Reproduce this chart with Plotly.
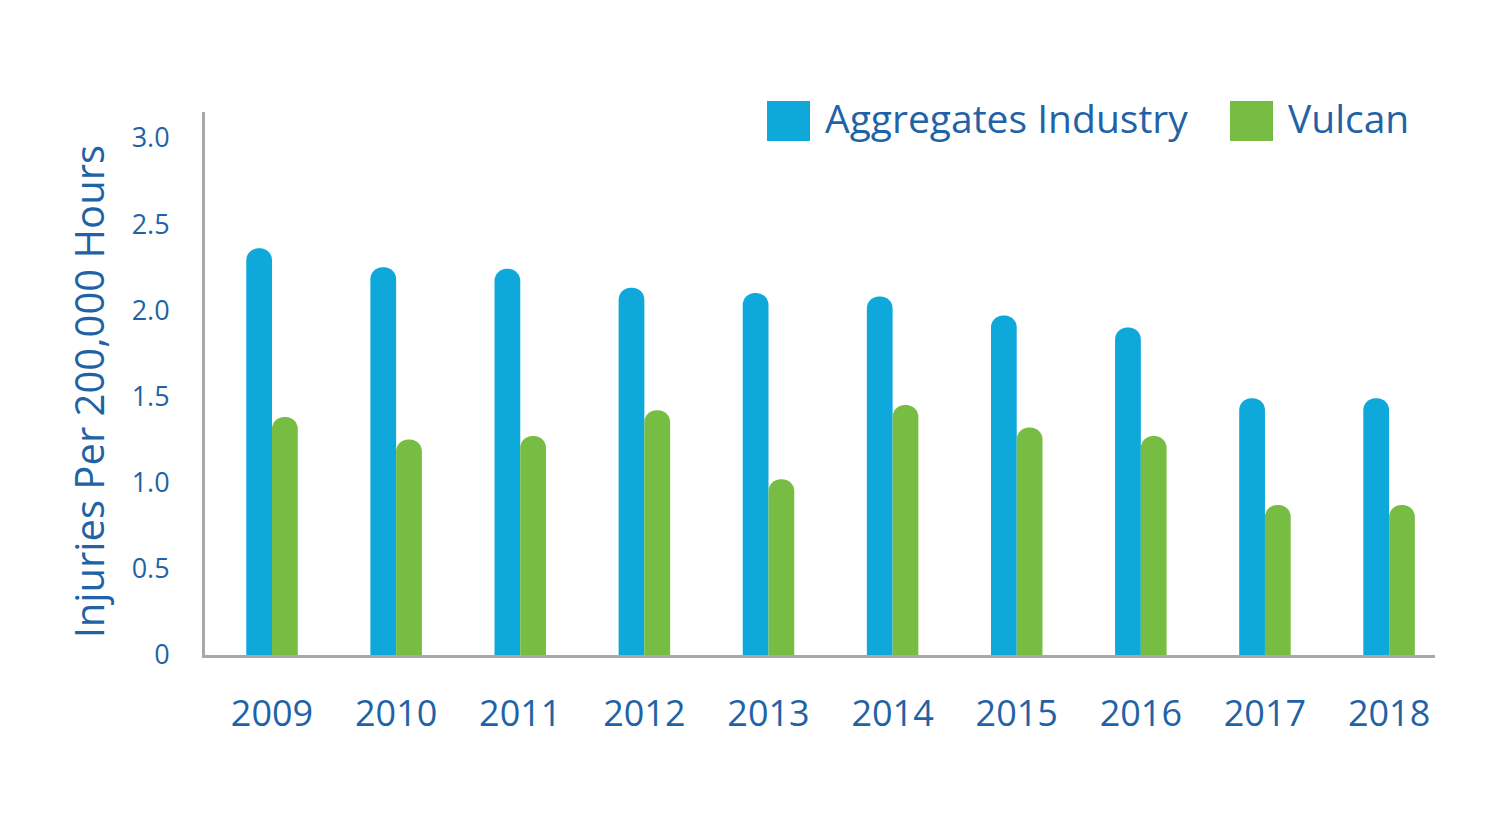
import plotly.graph_objects as go

years = ["2009", "2010", "2011", "2012", "2013", "2014", "2015", "2016", "2017", "2018"]
aggregates = [2.36, 2.25, 2.24, 2.13, 2.10, 2.08, 1.97, 1.90, 1.49, 1.49]
vulcan = [1.38, 1.25, 1.27, 1.42, 1.02, 1.45, 1.32, 1.27, 0.87, 0.87]
ytick_vals = [0, 0.5, 1.0, 1.5, 2.0, 2.5, 3.0]
ytick_text = ["0", "0.5", "1.0", "1.5", "2.0", "2.5", "3.0"]
series_names = ["Aggregates Industry", "Vulcan"]

BLUE = "#0EA8DA"
GREEN = "#77BD43"
TEXT = "#1F63A6"
AXIS = "#A6A8AB"
FONT = "Open Sans"

fig = go.Figure()
fig.add_trace(go.Bar(x=years, y=aggregates, name=series_names[0],
                     marker=dict(color=BLUE, cornerradius="50%", line=dict(width=0))))
fig.add_trace(go.Bar(x=years, y=vulcan, name=series_names[1],
                     marker=dict(color=GREEN, cornerradius="50%", line=dict(width=0))))

fig.update_layout(
    width=1487, height=818,
    barmode="group", bargap=0.585, bargroupgap=0,
    showlegend=False,
    plot_bgcolor="white", paper_bgcolor="white",
    margin=dict(l=197, r=60, t=104, b=171),
    font=dict(family=FONT, color=TEXT),
    xaxis=dict(range=[-0.54, 9.37], showline=True, linecolor=AXIS, linewidth=3,
               showgrid=False, ticks="", tickfont=dict(size=36, color=TEXT),
               ticklabelstandoff=25, fixedrange=True),
    yaxis=dict(range=[0, 3.15], showline=True, linecolor=AXIS, linewidth=3,
               showgrid=False, zeroline=False, ticks="",
               tickvals=ytick_vals, ticktext=ytick_text,
               tickfont=dict(size=27, color=TEXT), ticklabelstandoff=27,
               fixedrange=True),
)

# y-axis title
fig.add_annotation(text="Injuries Per 200,000 Hours", xref="paper", yref="paper",
                   x=-0.095, y=0.484, xanchor="center", yanchor="middle",
                   textangle=-90, showarrow=False,
                   font=dict(size=40, color=TEXT, family=FONT))

# custom legend
legend_items = [(series_names[0], BLUE, 767), (series_names[1], GREEN, 1230)]
for name, color, px in legend_items:
    fig.add_shape(type="rect", xref="paper", yref="paper",
                  x0=(px - 205) / 1230, x1=(px + 43 - 205) / 1230,
                  y0=(655 - 141) / 543, y1=(655 - 101) / 543,
                  fillcolor=color, line=dict(width=0))
    fig.add_annotation(text=name, xref="paper", yref="paper",
                       x=(px + 56 - 205) / 1230, y=(655 - 118) / 543,
                       xanchor="left", yanchor="middle", showarrow=False,
                       font=dict(size=39, color=TEXT, family=FONT))

fig.write_html("out.html")
